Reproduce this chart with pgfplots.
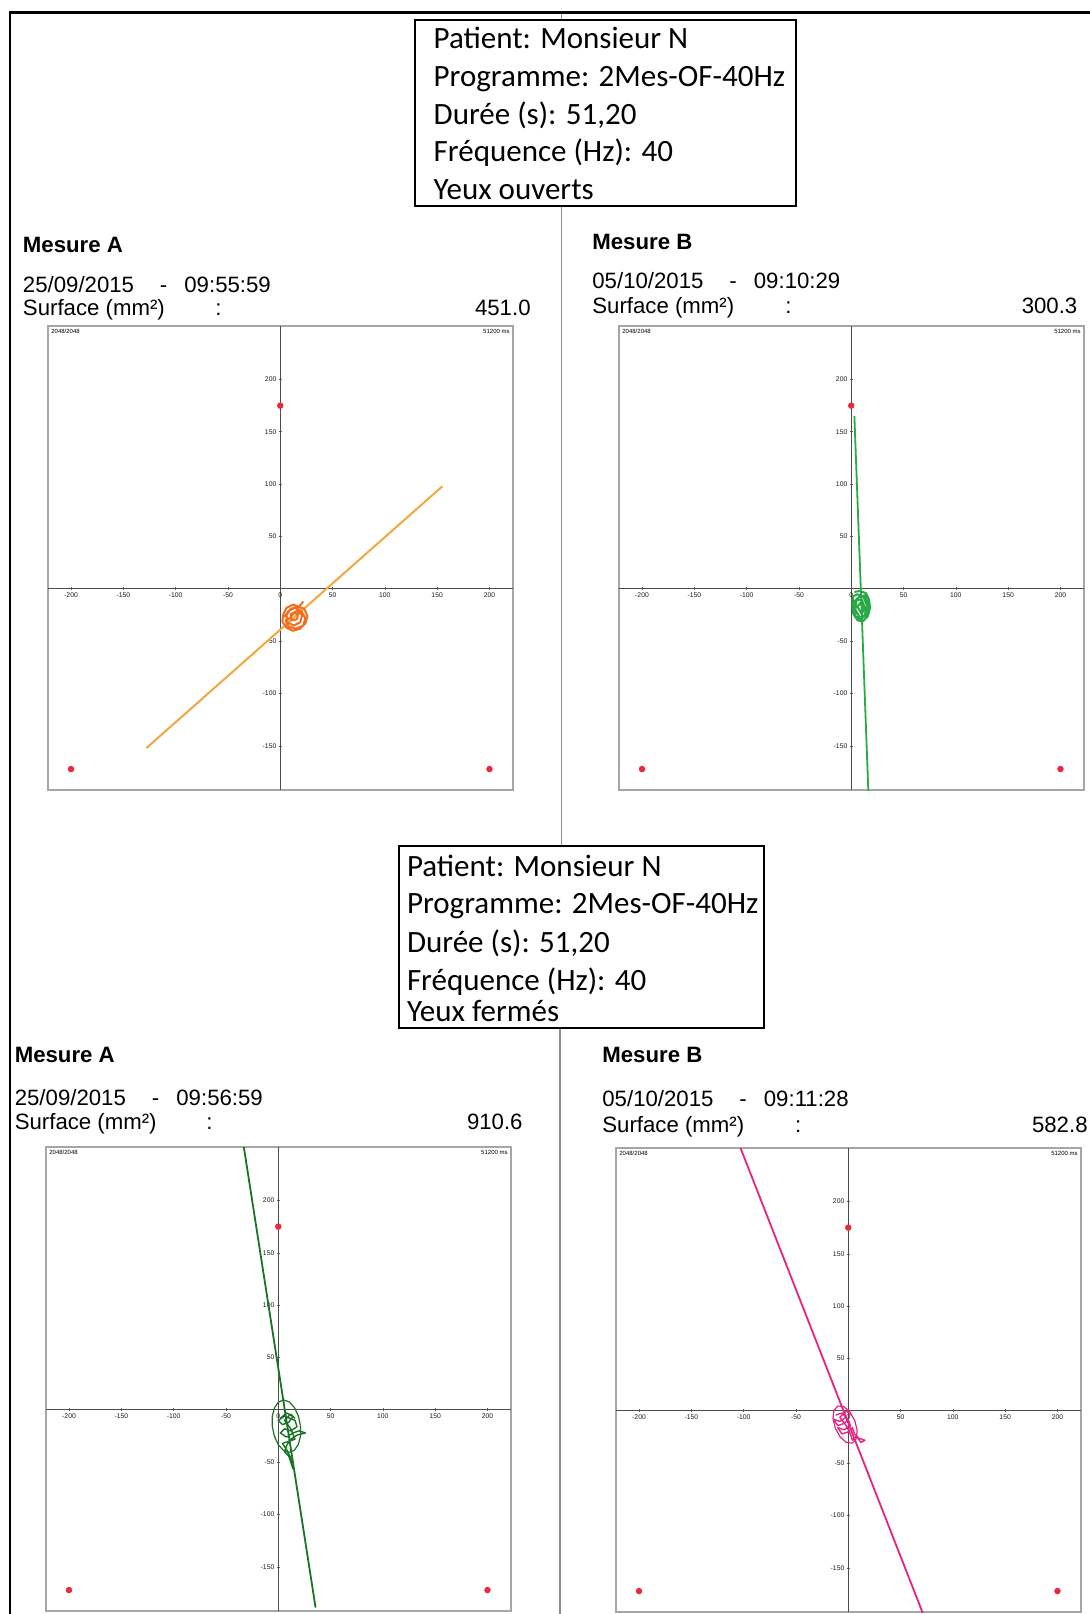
\documentclass[border=0pt]{standalone}
\usepackage{pgfplots}
\pgfplotsset{compat=1.18}
\usepackage{fontspec}
\setmainfont{Liberation Sans}
\newfontfamily\calib{Carlito}
\definecolor{orline}{RGB}{242,168,60}
\definecolor{orblob}{RGB}{240,110,30}
\definecolor{grB}{RGB}{40,170,70}
\definecolor{grC}{RGB}{25,115,35}
\definecolor{pkD}{RGB}{230,35,125}
\definecolor{rdot}{RGB}{235,40,60}
\pgfplotsset{stab/.style={
  scale only axis, width=232.5pt, height=232pt, anchor=north west,
  xmin=-222, xmax=222.5, ymin=-192, ymax=251,
  axis lines=middle,
  every inner x axis line/.append style={-},
  every inner y axis line/.append style={-},
  axis line style={black!70, line width=0.5pt},
  axis background/.style={draw=black!35, line width=0.9pt},
  xtick={-200,-150,...,200}, ytick={-150,-100,-50,50,100,150,200},
  hide obscured x ticks=false,
  /pgf/number format/assume math mode=true,
  tick label style={font=\fontsize{3.4}{3.6}\selectfont, text=black!90, inner sep=1pt},
  major tick length=1.5pt, tick style={black!60, line width=0.3pt},
  clip=true,
}}
\newcommand\corner{%
  \node[anchor=north west, font=\fontsize{3}{3}\selectfont, inner sep=1.5pt] at (rel axis cs:0,1) {2048/2048};
  \node[anchor=north east, font=\fontsize{3}{3}\selectfont, inner sep=1.5pt] at (rel axis cs:1,1) {51200 ms};
}
\newcommand\refdots{\addplot[only marks, mark=*, mark size=1.4pt, mark options={draw=rdot, fill=rdot}] coordinates {(0,175) (-200,-172) (200,-172)};}
\begin{document}
\begin{tikzpicture}[x=0.5pt,y=-0.5pt,
  lab/.style={font=\fontsize{11.1}{13}\selectfont, inner sep=0},
  box/.style={font=\calib\fontsize{15.5}{18}\selectfont, inner sep=0, anchor=base west}]
\useasboundingbox (0,0) rectangle (1090,1614);
% frame and dividers
\draw[black!45, line width=0.6pt] (561.5,12.4) -- (561.5,846);
\draw[black!45, line width=0.6pt] (560,1028) -- (560,1620);
\draw[black, line width=1.1pt] (10,1620) -- (10,12.4) -- (1100,12.4);
% top info box
\draw[line width=1pt, fill=white] (415,20) rectangle (796,205.5);
\node[box] at (433.3,48.3) {Patient: Monsieur N};
\node[box] at (433.3,86) {Programme: 2Mes-OF-40Hz};
\node[box] at (433.3,124) {Durée (s): 51,20};
\node[box] at (433.3,161.7) {Fréquence (Hz): 40};
\node[box] at (433.3,199.3) {Yeux ouverts};
% bottom info box
\draw[line width=1pt, fill=white] (399.4,846) rectangle (763.8,1027.7);
\node[box] at (406.6,876) {Patient: Monsieur N};
\node[box] at (406.6,913) {Programme: 2Mes-OF-40Hz};
\node[box] at (406.6,952) {Durée (s): 51,20};
\node[box] at (406.6,990) {Fréquence (Hz): 40};
\node[box] at (406.6,1021) {Yeux fermés};
% upper labels
\node[lab, anchor=base west] at (22.6,252) {\bfseries Mesure A};
\node[lab, anchor=base west] at (22.6,292) {25/09/2015};
\node[lab, anchor=base west] at (159.5,292) {-};
\node[lab, anchor=base west] at (184,292) {09:55:59};
\node[lab, anchor=base west] at (22.6,315.8) {Surface (mm²)};
\node[lab, anchor=base west] at (215,315.8) {:};
\node[lab, anchor=base east] at (531,315.8) {451.0};
\node[lab, anchor=base west] at (592,249) {\bfseries Mesure B};
\node[lab, anchor=base west] at (592,288) {05/10/2015};
\node[lab, anchor=base west] at (729,288) {-};
\node[lab, anchor=base west] at (753.5,288) {09:10:29};
\node[lab, anchor=base west] at (592,313.7) {Surface (mm²)};
\node[lab, anchor=base west] at (785,313.7) {:};
\node[lab, anchor=base east] at (1077.7,313.7) {300.3};
% lower labels
\node[lab, anchor=base west] at (14.4,1062) {\bfseries Mesure A};
\node[lab, anchor=base west] at (14.4,1105) {25/09/2015};
\node[lab, anchor=base west] at (151.4,1105) {-};
\node[lab, anchor=base west] at (176,1105) {09:56:59};
\node[lab, anchor=base west] at (14.4,1129) {Surface (mm²)};
\node[lab, anchor=base west] at (206,1129) {:};
\node[lab, anchor=base east] at (523,1129) {910.6};
\node[lab, anchor=base west] at (602,1062) {\bfseries Mesure B};
\node[lab, anchor=base west] at (602,1106) {05/10/2015};
\node[lab, anchor=base west] at (739,1106) {-};
\node[lab, anchor=base west] at (763.5,1106) {09:11:28};
\node[lab, anchor=base west] at (602,1132) {Surface (mm²)};
\node[lab, anchor=base west] at (794.6,1132) {:};
\node[lab, anchor=base east] at (1088,1132) {582.8};

% ---- A : yeux ouverts, mesure A
\begin{axis}[stab, at={(24pt,-163pt)}]
\corner
\addplot[orline, line width=1pt] coordinates {(-128,-152) (155,98)};
\addplot[orblob, line width=1pt, line join=round] coordinates {(22,-12) (18,-17) (12,-15) (6,-18) (3,-24) (2,-31) (6,-37) (12,-40) (19,-38) (24,-33) (26,-26) (23,-19) (17,-17) (10,-19) (6,-25) (7,-32) (13,-35) (19,-32) (21,-25) (16,-21) (10,-24) (11,-30) (16,-29) (17,-24) (13,-23) (9,-28) (5,-30) (8,-36) (15,-38) (22,-35) (24,-28) (20,-21) (14,-18) (8,-21) (4,-27)};
\refdots
\end{axis}

% ---- B : yeux ouverts, mesure B
\begin{axis}[stab, at={(309.5pt,-163pt)}]
\corner
\addplot[grB, line width=0.9pt] coordinates {(3,165) (16.6,-200)};
\addplot[grB, line width=1pt, line join=round] coordinates {(3,-3) (8,-2) (14,-4) (17,-10) (18,-18) (16,-26) (11,-31) (6,-30) (2,-24) (1,-15) (2,-7) (6,-5) (12,-8) (15,-16) (13,-25) (8,-27) (4,-20) (5,-11) (10,-10) (13,-18) (10,-24) (6,-17) (9,-13) (11,-19) (14,-22) (16,-14) (13,-6) (7,-8) (3,-12) (4,-26) (9,-29) (15,-24) (17,-16) (14,-9)};
\refdots
\end{axis}

% ---- C : yeux fermes, mesure A
\begin{axis}[stab, at={(23pt,-573.5pt)}]
\corner
\addplot[grC, line width=0.9pt] coordinates {(-34.3,260) (35.7,-188.7)};
\addplot[grC, line width=0.6pt, line join=round] coordinates {(21.3,-15.5) (19.3,-5.9) (15.5,2.2) (10.7,7.6) (5.3,9.5) (0.3,7.6) (-3.5,2.2) (-5.7,-5.9) (-5.7,-15.5) (-3.7,-25.1) (0.1,-33.2) (4.9,-38.6) (10.3,-40.5) (15.3,-38.6) (19.1,-33.2) (21.3,-25.1) (21.3,-15.5)};
\addplot[grC, line width=0.7pt, line join=round] coordinates {(2,-8) (8,-3) (14,-6) (10,-12) (4,-14) (0,-10) (6,-6) (16,-10) (18,-16) (12,-20) (6,-18) (2,-22) (8,-26) (14,-22) (20,-20) (26,-22) (18,-24) (12,-28) (8,-34) (6,-40) (10,-44) (12,-50) (14,-56) (12,-46) (8,-38) (4,-32) (10,-30) (16,-28) (12,-18) (6,-10) (12,-4) (16,-8)};
\refdots
\end{axis}

% ---- D : yeux fermes, mesure B
\begin{axis}[stab, at={(308pt,-574pt)}]
\corner
\addplot[pkD, line width=0.9pt] coordinates {(-106.5,260) (74,-200)};
\addplot[pkD, line width=0.6pt, line join=round] coordinates {(-9.95,4.7) (-4.36,4.14) (1.58,-0.99) (6.31,-9.34) (8.54,-18.67) (7.68,-26.48) (3.95,-30.7) (-1.64,-30.14) (-7.58,-25.01) (-12.31,-16.66) (-14.54,-7.33) (-13.68,0.48) (-9.95,4.7)};
\addplot[pkD, line width=0.7pt, line join=round] coordinates {(-12,-4) (-6,-2) (-2,-6) (-8,-10) (-14,-8) (-10,-14) (-4,-12) (0,-8) (2,-14) (-4,-18) (-10,-16) (-6,-22) (0,-20) (4,-16) (6,-22) (10,-26) (16,-28) (12,-30) (8,-24) (4,-28) (2,-22) (-2,-14) (-8,-6) (-2,0) (3,-4)};
\refdots
\end{axis}
\end{tikzpicture}
\end{document}
